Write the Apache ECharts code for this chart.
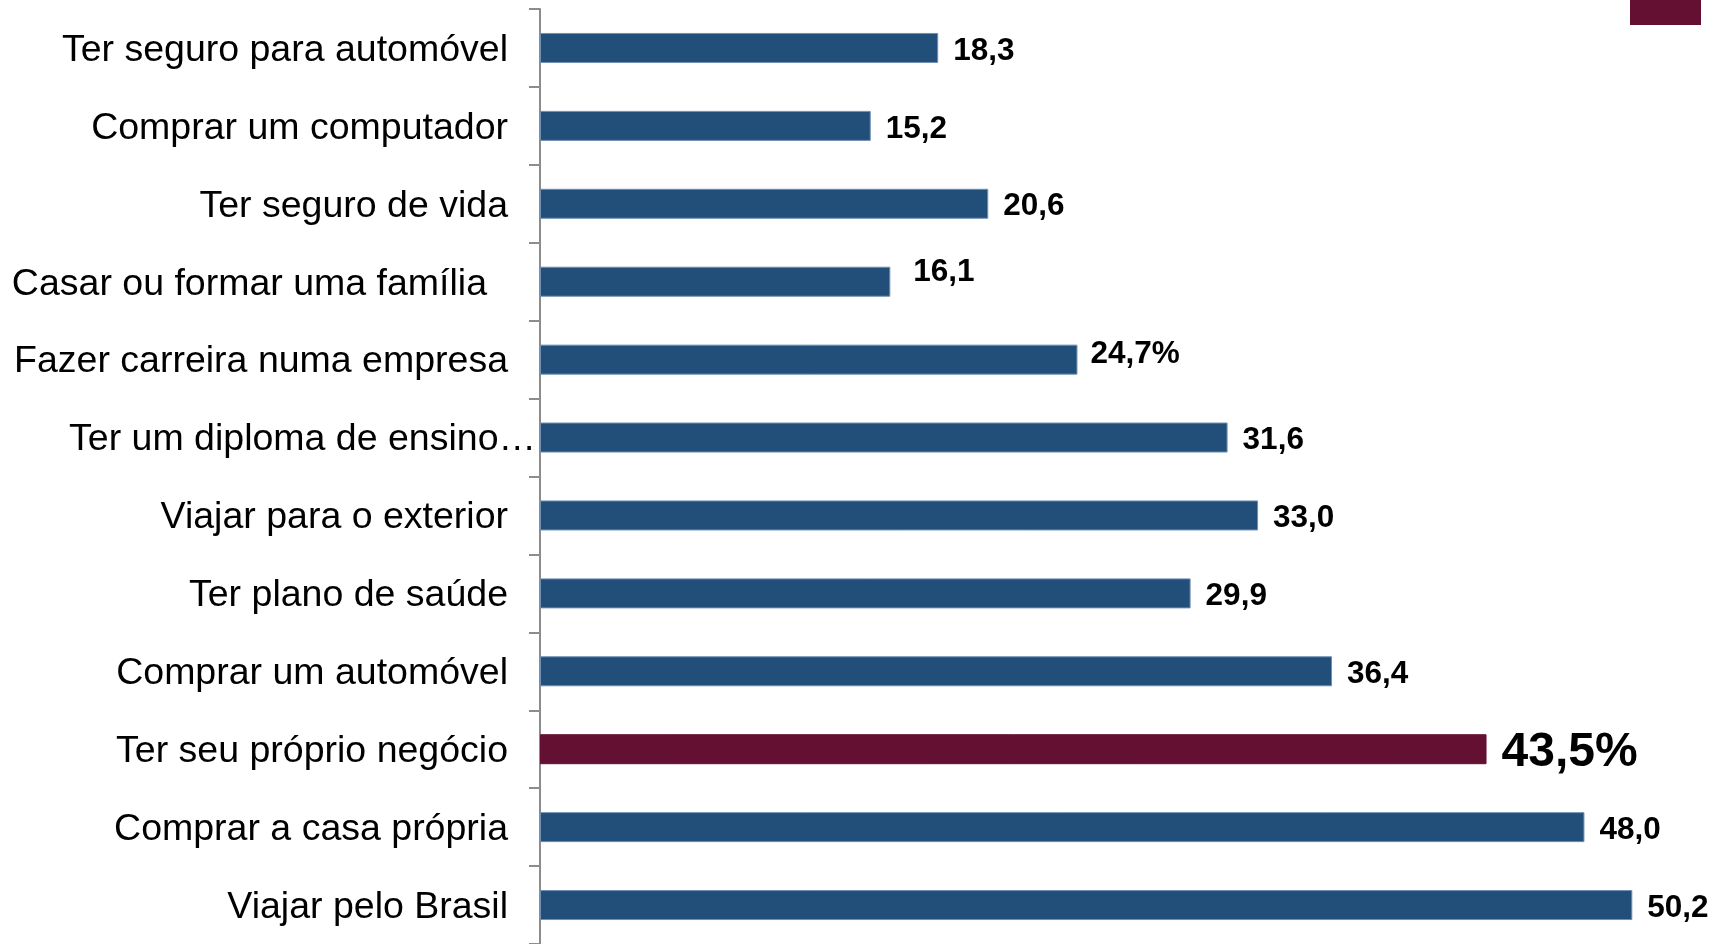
<!DOCTYPE html>
<html>
<head>
<meta charset="utf-8">
<script src="https://cdn.jsdelivr.net/npm/echarts@6/dist/echarts.min.js"></script>
<style>
html,body{margin:0;padding:0;background:#fff;}
#chart{width:1715px;height:944px;}
</style>
</head>
<body>
<div id="chart"></div>
<script>
// Categories, top to bottom
const categories = [
  'Ter seguro para automóvel',
  'Comprar um computador',
  'Ter seguro de vida',
  'Casar ou formar uma família',
  'Fazer carreira numa empresa',
  'Ter um diploma de ensino…',
  'Viajar para o exterior',
  'Ter plano de saúde',
  'Comprar um automóvel',
  'Ter seu próprio negócio',
  'Comprar a casa própria',
  'Viajar pelo Brasil'
];
const values = [18.3, 15.2, 20.6, 16.1, 24.7, 31.6, 33.0, 29.9, 36.4, 43.5, 48.0, 50.2];
const valueLabels = ['18,3', '15,2', '20,6', '16,1', '24,7%', '31,6', '33,0', '29,9', '36,4', '43,5%', '48,0', '50,2'];
const highlighted = 'Ter seu próprio negócio';

const BLUE = '#214F79';
const MAROON = '#631032';
const FONT = '"Liberation Sans", Arial, sans-serif';

const barData = values.map((v, i) => {
  const isHi = categories[i] === highlighted;
  const item = {
    value: v,
    itemStyle: { color: isHi ? MAROON : BLUE, borderColor: isHi ? MAROON : '#6f8fb3', borderWidth: 1 },
    label: {}
  };
  if (isHi) {
    item.label = { fontSize: 48, offset: [0, 4] };
  }
  if (categories[i] === 'Casar ou formar uma família') item.label = { offset: [8, -9] };
  if (categories[i] === 'Fazer carreira numa empresa') item.label = { offset: [-2, -5] };
  return item;
});

const catStyle = { color: '#000', fontSize: 37.5, fontFamily: FONT };

const chart = echarts.init(document.getElementById('chart'), null, { renderer: 'canvas' });
chart.setOption({
  animation: false,
  backgroundColor: '#fff',
  grid: { left: 540, top: 9, width: 1175, height: 939, containLabel: false },
  xAxis: { type: 'value', min: 0, max: 54, show: false },
  yAxis: {
    type: 'category',
    inverse: true,
    data: categories,
    axisLine: { show: true, lineStyle: { color: '#8c8c8c', width: 2 } },
    axisTick: { show: true, length: 11, lineStyle: { color: '#8c8c8c', width: 2 } },
    axisLabel: {
      color: '#000', fontSize: 37.5, fontFamily: FONT, margin: 2,
      formatter: v => {
        if (v === 'Ter um diploma de ensino…') return '{d|' + v + '}';
        if (v === 'Casar ou formar uma família') return '{c|' + v + '}';
        return '{a|' + v + '}';
      },
      rich: {
        a: Object.assign({ padding: [5, 30, 0, 0] }, catStyle),
        c: Object.assign({ padding: [5, 51, 0, 0] }, catStyle),
        d: Object.assign({ padding: [5, 2, 0, 0] }, catStyle)
      }
    },
    splitLine: { show: false }
  },
  series: [{
    type: 'bar',
    data: barData,
    barWidth: 30,
    label: {
      show: true,
      position: 'right',
      distance: 15,
      color: '#000',
      fontFamily: FONT,
      fontWeight: 'bold',
      fontSize: 31.5,
      offset: [0, 3],
      formatter: p => valueLabels[p.dataIndex]
    }
  }],
  graphic: [{
    type: 'rect',
    shape: { x: 1630, y: 0, width: 71, height: 25 },
    style: { fill: MAROON }
  }]
});
</script>
</body>
</html>
